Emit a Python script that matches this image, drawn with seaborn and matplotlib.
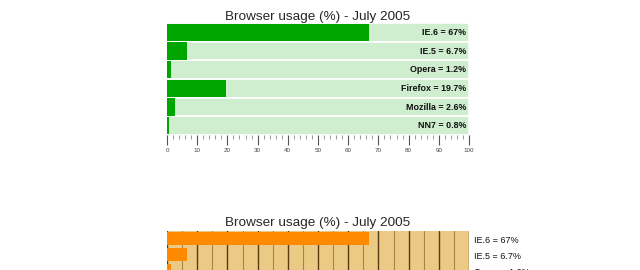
import matplotlib
matplotlib.use("Agg")
import matplotlib.pyplot as plt
from matplotlib.ticker import MultipleLocator
import seaborn as sns
import pandas as pd

browsers = ["IE.6", "IE.5", "Opera", "Firefox", "Mozilla", "NN7"]
usage = [67, 6.7, 1.2, 19.7, 2.6, 0.8]
usage_labels = ["67%", "6.7%", "1.2%", "19.7%", "2.6%", "0.8%"]
axis_max = 100
title = "Browser usage (%) - July 2005"

sns.set_style("white")
plt.rcParams["font.family"] = ["Liberation Sans", "DejaVu Sans"]

df = pd.DataFrame({"browser": browsers, "usage": usage,
                   "full": [axis_max] * len(browsers)})

fig = plt.figure(figsize=(6.4, 2.7), dpi=100)

# ---------- top chart (green) ----------
ax1 = fig.add_axes([167 / 640, 1 - 135 / 270, 302 / 640, 112 / 270])
sns.barplot(data=df, y="browser", x="full", color="#cfedcf", width=1.0,
            edgecolor="white", linewidth=1.2, saturation=1, ax=ax1, orient="h")
sns.barplot(data=df, y="browser", x="usage", color="#00a600", width=0.93,
            linewidth=0, saturation=1, ax=ax1, orient="h")
ax1.set_xlim(0, axis_max)
ax1.set_ylim(len(browsers) - 0.5, -0.5)
for s in ax1.spines.values():
    s.set_visible(False)
ax1.set_yticks([])
ax1.set_xlabel("")
ax1.set_ylabel("")
ax1.xaxis.set_major_locator(MultipleLocator(10))
ax1.xaxis.set_minor_locator(MultipleLocator(2))
ax1.tick_params(axis="x", which="major", length=7, width=0.8, color="#555555",
                labelsize=4.5, labelcolor="#444444", pad=2, bottom=True)
ax1.tick_params(axis="x", which="minor", length=3, width=0.6, color="#888888",
                bottom=True)
for i, (b, lab) in enumerate(zip(browsers, usage_labels)):
    ax1.text(99, i, f"{b} = {lab}", ha="right", va="center",
             fontsize=6.4, fontweight="bold", color="#111111")
ax1.set_title(title, fontsize=9.7, pad=2.5)

# ---------- bottom chart (orange) ----------
ax2 = fig.add_axes([167 / 640, 1 - 326.5 / 270, 302 / 640, 96 / 270])
ax2.set_facecolor("#ebca86")
sns.barplot(data=df, y="browser", x="usage", color="#ff8a00", width=0.85,
            linewidth=0, saturation=1, ax=ax2, orient="h", zorder=3)
ax2.set_xlim(0, axis_max)
ax2.set_ylim(len(browsers) - 0.5, -0.5)
for s in ax2.spines.values():
    s.set_visible(False)
ax2.set_yticks([])
ax2.set_xlabel("")
ax2.set_ylabel("")
ax2.xaxis.set_major_locator(MultipleLocator(10))
ax2.xaxis.set_minor_locator(MultipleLocator(5))
ax2.grid(True, axis="x", which="major", color="#5a3a10", linewidth=1.0)
ax2.grid(True, axis="x", which="minor", color="#a88448", linewidth=0.8)
ax2.set_axisbelow(True)
ax2.tick_params(axis="x", which="both", length=0, labelbottom=False)
for i, (b, lab) in enumerate(zip(browsers, usage_labels)):
    ax2.text(1.016, i + 0.1, f"{b} = {lab}", ha="left", va="center",
             fontsize=6.5, color="#111111",
             transform=ax2.get_yaxis_transform())
ax2.set_title(title, fontsize=9.7, pad=3)

fig.savefig("out.png", dpi=100)
